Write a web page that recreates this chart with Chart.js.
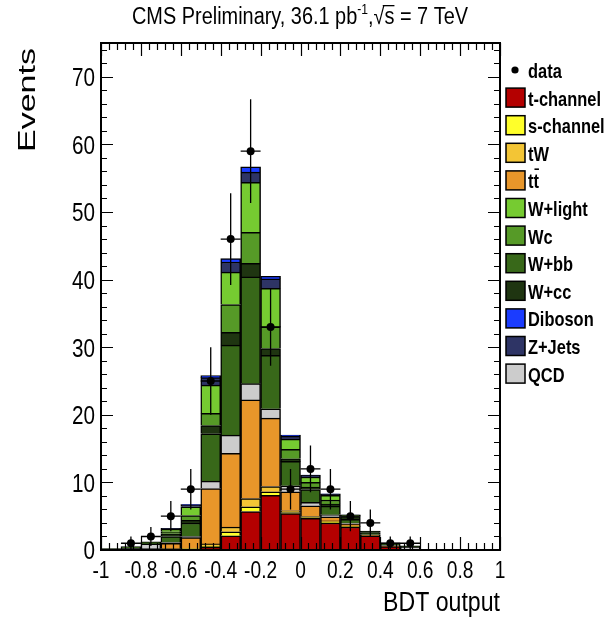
<!DOCTYPE html>
<html>
<head>
<meta charset="utf-8">
<script src="https://cdn.jsdelivr.net/npm/chart.js@4.4.1/dist/chart.umd.min.js"></script>
<style>
  html, body { margin: 0; padding: 0; background: #fff; }
  canvas { display: block; }
</style>
</head>
<body>
<canvas id="bdt" width="604" height="622"></canvas>
<script>
// BDT output, 20 bins from -1 to 1
const binCenters = [-0.95, -0.85, -0.75, -0.65, -0.55, -0.45, -0.35, -0.25, -0.15, -0.05,
                    0.05, 0.15, 0.25, 0.35, 0.45, 0.55, 0.65, 0.75, 0.85, 0.95]
const binHalfWidth = 0.05

const xTicks = [-1, -0.8, -0.6, -0.4, -0.2, 0, 0.2, 0.4, 0.6, 0.8, 1]
const xTickLabels = ["-1", "-0.8", "-0.6", "-0.4", "-0.2", "0", "0.2", "0.4", "0.6", "0.8", "1"]
const yTicks = [0, 10, 20, 30, 40, 50, 60, 70]
const yTickLabels = ["0", "10", "20", "30", "40", "50", "60", "70"]

const dataEvents = [0, 1, 2, 5, 9, 25, 46, 59, 33, 9, 12, 9, 5, 4, 1, 1, 0, 0, 0, 0]

// expected yields per bin
const tChannel = [0, 0, 0, 0.05, 0.1, 0.4, 2.1, 5.7, 8.1, 5.4, 4.7, 4.0, 3.4, 2.1, 0.5, 0.1, 0, 0, 0, 0]
const sChannel = [0, 0, 0, 0.05, 0.05, 0.15, 0.6, 0.7, 0.5, 0.15, 0.1, 0.1, 0.05, 0, 0, 0, 0, 0, 0, 0]
const tW       = [0, 0, 0, 0.1, 0.1, 0.35, 0.7, 1.2, 0.8, 0.25, 0.15, 0.2, 0.1, 0, 0, 0, 0, 0, 0, 0]
const ttbar    = [0, 0, 0.2, 0.8, 1.6, 8.2, 10.9, 14.6, 10.1, 2.8, 1.6, 0.6, 0.3, 0.1, 0.1, 0, 0, 0, 0, 0]
const qcd      = [0.1, 0.3, 0.7, 0.1, 0.15, 1.1, 2.7, 2.4, 1.4, 0.9, 0.5, 0.3, 0.1, 0.05, 0.1, 0.4, 0, 0, 0, 0]
const wbb      = [0.1, 0.2, 0.3, 0.9, 2.0, 7.0, 13.3, 15.8, 7.9, 3.6, 1.9, 1.3, 0.6, 0.3, 0.2, 0.1, 0, 0, 0, 0]
const wcc      = [0, 0, 0, 0.4, 0.4, 1.2, 1.9, 2.0, 1.0, 0.4, 0.35, 0.3, 0.4, 0.25, 0.15, 0, 0, 0, 0, 0]
const wc       = [0, 0, 0, 0.3, 0.7, 1.8, 4.1, 4.6, 3.2, 1.4, 0.7, 0.6, 0.1, 0, 0, 0, 0, 0, 0, 0]
const wLight   = [0, 0, 0, 0.35, 1.3, 4.2, 4.8, 7.4, 5.7, 1.5, 0.8, 0.7, 0.1, 0, 0, 0, 0, 0, 0, 0]
const zJets    = [0, 0, 0, 0.15, 0.3, 1.1, 1.5, 1.5, 1.4, 0.45, 0.25, 0.15, 0.05, 0, 0, 0, 0, 0, 0, 0]
const diboson  = [0, 0, 0, 0, 0.05, 0.3, 0.5, 0.8, 0.4, 0.15, 0.05, 0.05, 0, 0, 0, 0, 0, 0, 0, 0]

const colors = {
  "t-channel": "#b40000",
  "s-channel": "#ffff2a",
  "tW": "#f3c535",
  "tt": "#e8962a",
  "W+light": "#76cb31",
  "Wc": "#569a27",
  "W+bb": "#386819",
  "W+cc": "#1f3511",
  "Diboson": "#1b3cff",
  "Z+Jets": "#2e3465",
  "QCD": "#cccccc"
}

// bottom of the stack first
const stack = [
  ["t-channel", tChannel],
  ["s-channel", sChannel],
  ["tW", tW],
  ["tt", ttbar],
  ["QCD", qcd],
  ["W+bb", wbb],
  ["W+cc", wcc],
  ["Wc", wc],
  ["W+light", wLight],
  ["Z+Jets", zJets],
  ["Diboson", diboson]
]

const legendOrder = ["t-channel", "s-channel", "tW", "tt", "W+light", "Wc", "W+bb", "W+cc", "Diboson", "Z+Jets", "QCD"]

const NARROW = '"Liberation Sans Narrow", "Arial Narrow", "Liberation Sans", Arial, sans-serif'
const SANS = '"Liberation Sans", Arial, sans-serif'

function toPoints(values) {
  return values.map((v, i) => ({ x: binCenters[i], y: v > 0 ? v : null }))
}

const stackDatasets = stack.map(([label, values]) => ({
  type: "bar",
  label,
  data: toPoints(values),
  backgroundColor: colors[label],
  borderColor: "#000",
  borderWidth: 1.5,
  borderSkipped: "start",
  barPercentage: 1,
  categoryPercentage: 1,
  order: 2
}))

const dataDataset = {
  type: "line",
  label: "data",
  stack: "data",
  data: toPoints(dataEvents),
  showLine: false,
  pointRadius: 4,
  pointBackgroundColor: "#000",
  pointBorderWidth: 0,
  order: 1
}

// draw a string squeezed horizontally by sx
function squeezed(ctx, text, x, y, sx, font, align) {
  ctx.save()
  ctx.font = font
  ctx.translate(x, y)
  ctx.scale(sx, 1)
  ctx.textAlign = align
  ctx.textBaseline = "alphabetic"
  ctx.fillText(text, 0, 0)
  ctx.restore()
}

function fitText(ctx, text, x, y, width, font, align) {
  ctx.font = font
  squeezed(ctx, text, x, y, width / ctx.measureText(text).width, font, align)
}

const frameAndTicks = {
  id: "frameAndTicks",
  afterDatasetsDraw(chart) {
    const { ctx, chartArea: a, scales: { x, y } } = chart
    ctx.save()
    ctx.strokeStyle = "#000"
    ctx.lineWidth = 1.2
    ctx.beginPath()
    for (let v = 0; v <= 74; v += 2) {
      const len = v % 10 === 0 ? 12 : 6
      const py = Math.round(y.getPixelForValue(v)) + 0.5
      ctx.moveTo(a.left, py); ctx.lineTo(a.left + len, py)
      ctx.moveTo(a.right, py); ctx.lineTo(a.right - len, py)
    }
    for (let k = 0; k <= 50; k++) {
      const v = -1 + k * 0.04
      const len = k % 5 === 0 ? 13 : 7
      const px = Math.round(x.getPixelForValue(v)) + 0.5
      ctx.moveTo(px, a.bottom); ctx.lineTo(px, a.bottom - len)
      ctx.moveTo(px, a.top); ctx.lineTo(px, a.top + len)
    }
    ctx.stroke()

    ctx.lineWidth = 2
    ctx.strokeRect(a.left, a.top, a.right - a.left, a.bottom - a.top)

    // Poisson error bars on the data
    ctx.lineWidth = 1.3
    ctx.beginPath()
    dataEvents.forEach((n, i) => {
      if (n <= 0) return
      const err = Math.sqrt(n)
      const px = x.getPixelForValue(binCenters[i])
      const py = y.getPixelForValue(n)
      ctx.moveTo(px, y.getPixelForValue(n - err)); ctx.lineTo(px, y.getPixelForValue(n + err))
      ctx.moveTo(x.getPixelForValue(binCenters[i] - binHalfWidth), py)
      ctx.lineTo(x.getPixelForValue(binCenters[i] + binHalfWidth), py)
    })
    ctx.stroke()
    ctx.restore()
  },
  afterDraw(chart) {
    const { ctx, scales: { x, y } } = chart
    ctx.save()
    ctx.fillStyle = "#000"

    // tick labels, narrow like the ROOT Helvetica
    const yFont = `26px ${SANS}`
    ctx.font = yFont
    const ysx = 23 / ctx.measureText("70").width
    y.ticks.forEach((t, i) => {
      squeezed(ctx, yTickLabels[i], 95, y.getPixelForValue(t.value) + 9.3, ysx, yFont, "right")
    })
    const xFont = `23px ${SANS}`
    ctx.font = xFont
    const xsx = 33 / ctx.measureText("-0.8").width
    x.ticks.forEach((t, i) => {
      squeezed(ctx, xTickLabels[i], x.getPixelForValue(t.value), 578, xsx, xFont, "center")
    })

    // title with pb^-1 and sqrt(s)
    const big = `23px ${NARROW}`
    const small = `14px ${NARROW}`
    const parts = [
      ["CMS Preliminary, 36.1 pb", big, 0],
      ["-1", small, -10],
      [",", big, 0],
      ["\u221A", big, 0],
      ["s", big, 0],
      [" = 7 TeV", big, 0]
    ]
    let total = 0
    parts.forEach(p => { ctx.font = p[1]; p.push(ctx.measureText(p[0]).width); total += p[3] })
    const sx = 336 / total
    ctx.save()
    ctx.translate(132, 24)
    ctx.scale(sx, 1)
    ctx.textBaseline = "alphabetic"
    let cx = 0
    parts.forEach(p => {
      ctx.font = p[1]
      ctx.fillText(p[0], cx, p[2])
      if (p[0] === "s") {
        ctx.fillRect(cx - 2, -19, p[3] + 2, 1.3)
      }
      cx += p[3]
    })
    ctx.restore()

    // axis titles
    fitText(ctx, "BDT output", 500, 611, 117, `27px ${SANS}`, "right")
    ctx.save()
    ctx.translate(35, 48)
    ctx.rotate(-Math.PI / 2)
    fitText(ctx, "Events", 0, 0, 104, `24px ${SANS}`, "right")
    ctx.restore()

    // legend
    const font = `bold 21px ${NARROW}`
    ctx.font = font
    const lsx = 73 / ctx.measureText("t-channel").width
    const row0 = 70, step = 27.6
    ctx.beginPath()
    ctx.arc(515, row0, 3.6, 0, Math.PI * 2)
    ctx.fill()
    squeezed(ctx, "data", 528, row0 + 8, lsx, font, "left")
    legendOrder.forEach((name, k) => {
      const cy = row0 + step * (k + 1)
      ctx.fillStyle = colors[name]
      ctx.fillRect(506, cy - 9.5, 19, 19)
      ctx.strokeStyle = "#000"
      ctx.lineWidth = 1.5
      ctx.strokeRect(506, cy - 9.5, 19, 19)
      ctx.fillStyle = "#000"
      squeezed(ctx, name, 528, cy + 8, lsx, font, "left")
      if (name === "tt") {
        ctx.font = font
        const tw = ctx.measureText("t").width * lsx
        ctx.fillRect(528 + tw + 1, cy - 12, tw - 1, 1.6)
      }
    })
    ctx.restore()
  }
}

new Chart(document.getElementById("bdt"), {
  type: "bar",
  data: { datasets: [dataDataset, ...stackDatasets] },
  options: {
    responsive: false,
    animation: false,
    layout: { padding: { top: 43, right: 104, left: 0, bottom: 0 } },
    plugins: { legend: { display: false }, tooltip: { enabled: false } },
    scales: {
      x: {
        type: "linear",
        min: -1,
        max: 1,
        offset: false,
        stacked: true,
        grid: { display: false, drawTicks: false },
        border: { display: false },
        afterBuildTicks: s => { s.ticks = xTicks.map(v => ({ value: v })) },
        afterFit: s => { s.height = 72 },
        ticks: { display: false }
      },
      y: {
        min: 0,
        max: 75,
        stacked: true,
        grid: { display: false, drawTicks: false },
        border: { display: false },
        afterBuildTicks: s => { s.ticks = yTicks.map(v => ({ value: v })) },
        afterFit: s => { s.width = 101 },
        ticks: { display: false }
      }
    }
  },
  plugins: [frameAndTicks]
})
</script>
</body>
</html>
